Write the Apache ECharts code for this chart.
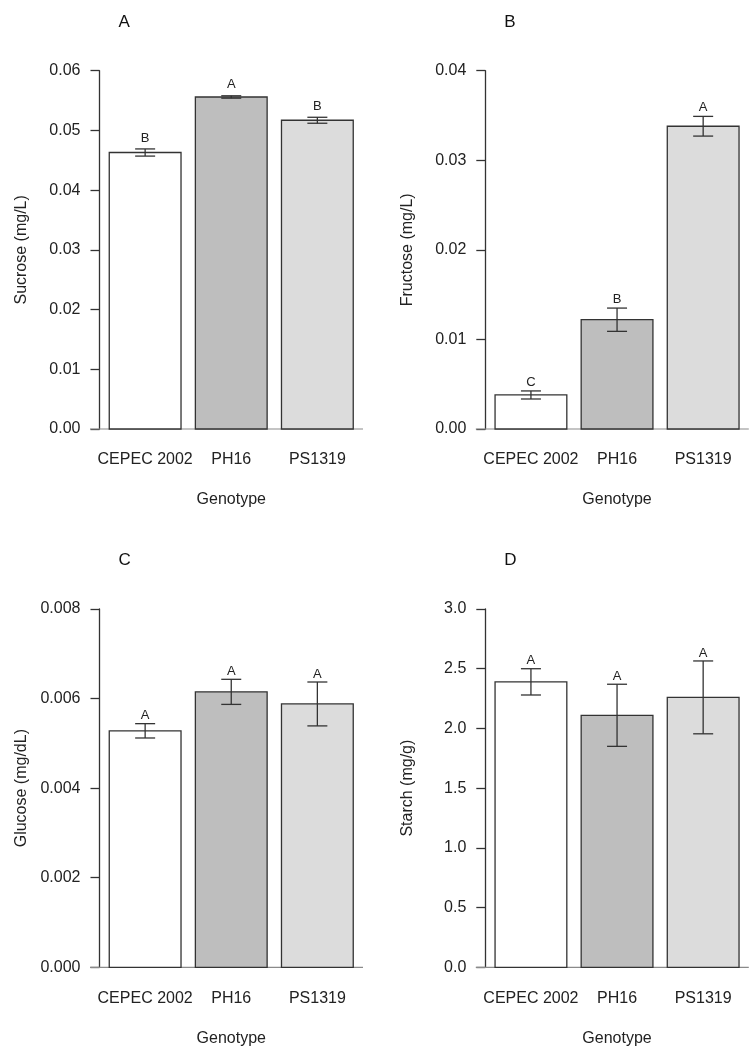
<!DOCTYPE html>
<html>
<head>
<meta charset="utf-8">
<script src="https://cdn.jsdelivr.net/npm/echarts@6/dist/echarts.min.js"></script>
<style>
  html, body { margin: 0; padding: 0; background: #fff; }
  #main { width: 756px; height: 1055px; }
</style>
</head>
<body>
<div id="main"></div>
<script>
// 基因型
var genotypes = ['CEPEC 2002', 'PH16', 'PS1319'];

// A 蔗糖
var sucroseMean = [0.0463, 0.0556, 0.0517];
var sucroseSe = [0.0006, 0.0002, 0.0005];
var sucroseLetters = ['B', 'A', 'B'];

// B 果糖
var fructoseMean = [0.0038, 0.0122, 0.0338];
var fructoseSe = [0.00045, 0.0013, 0.0011];
var fructoseLetters = ['C', 'B', 'A'];

// C 葡萄糖
var glucoseMean = [0.00528, 0.00615, 0.00588];
var glucoseSe = [0.00016, 0.00028, 0.00049];
var glucoseLetters = ['A', 'A', 'A'];

// D 淀粉
var starchMean = [2.39, 2.11, 2.26];
var starchSe = [0.11, 0.26, 0.305];
var starchLetters = ['A', 'A', 'A'];

// y轴刻度
var sucroseTicks = { max: 0.06, interval: 0.01, digits: 2 };
var fructoseTicks = { max: 0.04, interval: 0.01, digits: 2 };
var glucoseTicks = { max: 0.008, interval: 0.002, digits: 3 };
var starchTicks = { max: 3.0, interval: 0.5, digits: 1 };

var FONT = 'Liberation Sans, Arial, Helvetica, sans-serif';
var barColors = ['#ffffff', '#bebebe', '#dcdcdc'];
var ink = '#333333';

var panels = [
  { tag: 'A', name: 'Sucrose (mg/L)', mean: sucroseMean, se: sucroseSe, letters: sucroseLetters, ticks: sucroseTicks, left: 99.5, top: 70.7, gap: 11 },
  { tag: 'B', name: 'Fructose (mg/L)', mean: fructoseMean, se: fructoseSe, letters: fructoseLetters, ticks: fructoseTicks, left: 485.3, top: 70.7, gap: 9 },
  { tag: 'C', name: 'Glucose (mg/dL)', mean: glucoseMean, se: glucoseSe, letters: glucoseLetters, ticks: glucoseTicks, left: 99.5, top: 609, gap: 8 },
  { tag: 'D', name: 'Starch (mg/g)', mean: starchMean, se: starchSe, letters: starchLetters, ticks: starchTicks, left: 485.3, top: 609, gap: 8 }
];

var option = {
  animation: false,
  backgroundColor: '#fff',
  title: [],
  grid: [],
  xAxis: [],
  yAxis: [],
  series: []
};

panels.forEach(function (p, k) {
  option.title.push({
    text: p.tag,
    left: p.left + 14,
    top: p.top - 62,
    textStyle: { fontFamily: FONT, fontSize: 17, fontWeight: 'normal', color: '#111' }
  });
  option.grid.push({
    left: p.left,
    top: p.top,
    width: 263.5,
    height: 358.3
  });
  // R barplot 的横向范围
  option.xAxis.push({
    type: 'value',
    gridIndex: k,
    min: 0.064,
    max: 3.736,
    name: 'Genotype',
    nameLocation: 'middle',
    nameGap: 63,
    nameTextStyle: { fontFamily: FONT, fontSize: 16, color: '#222' },
    axisLine: { show: false },
    axisTick: { show: false },
    axisLabel: { show: false },
    splitLine: { show: false }
  });
  option.yAxis.push({
    type: 'value',
    gridIndex: k,
    min: 0,
    max: p.ticks.max,
    interval: p.ticks.interval,
    name: p.name,
    nameLocation: 'middle',
    nameGap: 70,
    nameTextStyle: { fontFamily: FONT, fontSize: 16, color: '#222' },
    axisLine: { show: true, lineStyle: { color: ink, width: 1.3 } },
    axisTick: { show: true, inside: false, length: 9, lineStyle: { color: ink, width: 1.3 } },
    axisLabel: {
      margin: 19,
      fontFamily: FONT,
      fontSize: 16,
      color: '#222',
      formatter: (function (d) {
        return function (v) { return v.toFixed(d); };
      })(p.ticks.digits)
    },
    splitLine: { show: false }
  });

  var data = p.mean.map(function (m, i) {
    return [i, m, p.se[i]];
  });

  option.series.push({
    type: 'custom',
    xAxisIndex: k,
    yAxisIndex: k,
    clip: false,
    encode: { x: 0, y: 1 },
    data: data,
    renderItem: function (params, api) {
      var i = api.value(0);
      var m = api.value(1);
      var s = api.value(2);
      var cx = 0.7 + 1.2 * i;
      var lt = api.coord([cx - 0.5, m]);
      var rb = api.coord([cx + 0.5, 0]);
      var hi = api.coord([cx, m + s]);
      var lo = api.coord([cx, m - s]);
      var cap = 10;
      var children = [];
      if (i === 0) {
        var cs = params.coordSys;
        children.push({
          type: 'line',
          shape: { x1: cs.x - 9.5, y1: rb[1], x2: cs.x + cs.width, y2: rb[1] },
          style: { stroke: '#8a8a8a', lineWidth: 1.2 }
        });
      }
      children.push({
        type: 'rect',
        shape: { x: lt[0], y: lt[1], width: rb[0] - lt[0], height: rb[1] - lt[1] },
        style: { fill: barColors[i], stroke: ink, lineWidth: 1.3 }
      });
      children.push({
        type: 'line',
        shape: { x1: hi[0], y1: hi[1], x2: lo[0], y2: lo[1] },
        style: { stroke: ink, lineWidth: 1.3 }
      });
      children.push({
        type: 'line',
        shape: { x1: hi[0] - cap, y1: hi[1], x2: hi[0] + cap, y2: hi[1] },
        style: { stroke: ink, lineWidth: 1.3 }
      });
      children.push({
        type: 'line',
        shape: { x1: lo[0] - cap, y1: lo[1], x2: lo[0] + cap, y2: lo[1] },
        style: { stroke: ink, lineWidth: 1.3 }
      });
      // 显著性字母
      children.push({
        type: 'text',
        style: {
          text: p.letters[i],
          x: hi[0],
          y: hi[1] - p.gap,
          align: 'center',
          verticalAlign: 'middle',
          font: '13px ' + FONT,
          fill: '#222'
        }
      });
      // 基因型标签
      children.push({
        type: 'text',
        style: {
          text: genotypes[i],
          x: hi[0],
          y: rb[1] + 31,
          align: 'center',
          verticalAlign: 'middle',
          font: '16px ' + FONT,
          fill: '#222'
        }
      });
      return { type: 'group', children: children };
    }
  });
});

var chart = echarts.init(document.getElementById('main'));
chart.setOption(option);
</script>
</body>
</html>
